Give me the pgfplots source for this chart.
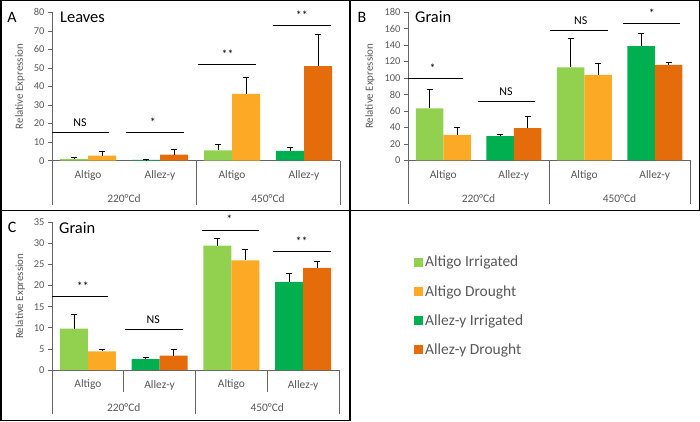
\documentclass[border=0pt]{standalone}
\usepackage{pgfplots}
\pgfplotsset{compat=1.18}
\usepackage{fontspec}
\setmainfont{Carlito}
\definecolor{cLG}{RGB}{146,208,80}
\definecolor{cOR}{RGB}{252,170,38}
\definecolor{cGR}{RGB}{0,176,80}
\definecolor{cDO}{RGB}{228,108,10}
\definecolor{txtgray}{RGB}{89,89,89}
\definecolor{axisgray}{RGB}{100,100,100}
\pgfplotsset{
  panel/.style={
    scale only axis, anchor=south west, xmin=-0.5, xmax=3.5, ymin=0,
    axis x line*=bottom, axis y line*=left,
    axis line style={draw=axisgray, line width=0.7bp, -},
    xtick=\empty, ytick style={draw=axisgray, line width=0.7bp},
    tick align=outside, major tick length=4bp,
    ybar, bar width=0.39, bar shift=0, clip=false,
    tick label style={font=\fontsize{10.5}{12}\selectfont, text=txtgray},
    /pgf/number format/assume math mode=true,
    ylabel={Relative Expression},
    ylabel style={font=\fontsize{11}{12}\selectfont, text=txtgray, anchor=center},
  },
  eb/.style={draw=none, fill=#1,
    error bars/y dir=plus, error bars/y explicit,
    error bars/error mark=|,
    error bars/error bar style={draw=black, line width=0.6bp},
    error bars/error mark options={draw=black, line width=0.6bp, mark size=3bp}},
}
\tikzset{cat/.style={font=\fontsize{11.5}{13}\selectfont, text=txtgray}}
\newcommand{\catlabels}{%
  \node[cat] at ([yshift=-15bp]axis cs:0,0) {Altigo};
  \node[cat] at ([yshift=-15bp]axis cs:1,0) {Allez-y};
  \node[cat] at ([yshift=-15bp]axis cs:2,0) {Altigo};
  \node[cat] at ([yshift=-15bp]axis cs:3,0) {Allez-y};
  \node[cat] at ([yshift=-38bp]axis cs:0.5,0) {220°Cd};
  \node[cat] at ([yshift=-38bp]axis cs:2.5,0) {450°Cd};
  \draw[axisgray, line width=0.7bp] (axis cs:-0.5,0) -- ([yshift=-44bp]axis cs:-0.5,0);
  \draw[axisgray, line width=0.7bp] (axis cs:1.5,0) -- ([yshift=-44bp]axis cs:1.5,0);
  \draw[axisgray, line width=0.7bp] (axis cs:3.5,0) -- ([yshift=-44bp]axis cs:3.5,0);
}
\newcommand{\sig}[5]{% x1, x2, y, text, xmid
  \draw[black, line width=0.7bp] (axis cs:#1,#3) -- (axis cs:#2,#3);
  \node[anchor=base, font=\fontsize{12}{14}\selectfont, inner sep=0pt] at ([yshift=6bp]axis cs:#5,#3) {#4};
}
\begin{document}
\begin{tikzpicture}[x=1bp,y=1bp]
\useasboundingbox (0,0) rectangle (700,421);
% frames
\draw[black, line width=1.5bp] (0.75,420.25) rectangle (350,210.5);
\draw[black, line width=1.5bp] (350,420.25) rectangle (699.25,210.5);
\draw[black, line width=1.5bp] (0.75,210.5) rectangle (350,0.75);
% Panel A
\begin{axis}[panel, at={(52bp,260.3bp)}, width=288bp, height=148.4bp, ymax=80, ytick distance=10,
  ylabel style={at={(axis description cs:-0.111,0.5)}}]
\addplot[eb=cLG] coordinates {(-0.195,0.9) +- (0,0.7) (1.805,5.6) +- (0,3.4)};
\addplot[eb=cOR] coordinates {(0.195,2.8) +- (0,2.0) (2.195,36) +- (0,9)};
\addplot[eb=cGR] coordinates {(0.805,0.4) +- (0,0.2) (2.805,5.3) +- (0,1.8)};
\addplot[eb=cDO] coordinates {(1.195,3.3) +- (0,2.8) (3.195,51) +- (0,17)};
\catlabels
\sig{-0.5}{0.29}{15.3}{NS}{-0.11}
\sig{0.53}{1.33}{15.3}{*}{0.9}
\sig{1.53}{2.33}{52.1}{**}{1.94}
\sig{2.57}{3.375}{73.1}{**}{2.97}
\end{axis}
% Panel B
\begin{axis}[panel, at={(408bp,260.7bp)}, width=282bp, height=148bp, ymax=180, ytick distance=20,
  ylabel style={at={(axis description cs:-0.135,0.5)}}]
\addplot[eb=cLG] coordinates {(-0.195,63) +- (0,23) (1.805,113) +- (0,35)};
\addplot[eb=cOR] coordinates {(0.195,31) +- (0,9) (2.195,104) +- (0,14)};
\addplot[eb=cGR] coordinates {(0.805,29.5) +- (0,2) (2.805,139) +- (0,16)};
\addplot[eb=cDO] coordinates {(1.195,39) +- (0,15) (3.195,116) +- (0,3)};
\catlabels
\sig{-0.5}{0.28}{100}{*}{-0.15}
\sig{0.49}{1.30}{71.3}{NS}{0.89}
\sig{1.51}{2.34}{157.6}{NS}{1.95}
\sig{2.55}{3.36}{166.6}{*}{2.96}
\end{axis}
% Panel C
\begin{axis}[panel, at={(52bp,51bp)}, width=287bp, height=147.7bp, ymax=35, ytick distance=5,
  ylabel style={at={(axis description cs:-0.111,0.5)}}]
\addplot[eb=cLG] coordinates {(-0.195,9.8) +- (0,3.3) (1.805,29.5) +- (0,1.7)};
\addplot[eb=cOR] coordinates {(0.195,4.4) +- (0,0.6) (2.195,26) +- (0,2.7)};
\addplot[eb=cGR] coordinates {(0.805,2.6) +- (0,0.5) (2.805,20.9) +- (0,2)};
\addplot[eb=cDO] coordinates {(1.195,3.4) +- (0,1.5) (3.195,24.2) +- (0,1.5)};
\catlabels
\draw[axisgray, line width=0.7bp] (axis cs:0.5,0) -- ([yshift=-22bp]axis cs:0.5,0);
\draw[axisgray, line width=0.7bp] (axis cs:2.5,0) -- ([yshift=-22bp]axis cs:2.5,0);
\sig{-0.5}{0.28}{17.5}{**}{-0.07}
\sig{0.52}{1.33}{9.7}{NS}{0.91}
\sig{1.59}{2.38}{33.2}{*}{1.97}
\sig{2.58}{3.39}{28.2}{**}{2.98}
\end{axis}
% Legend
\begin{axis}[at={(411bp,169bp)}, anchor=north west, hide axis, scale only axis,
  width=10bp, height=10bp, xmin=0, xmax=1, ymin=0, ymax=1,
  legend style={at={(0,1)}, anchor=north west, draw=none, fill=none,
    font=\fontsize{15.5}{18}\selectfont, text=txtgray, row sep=13bp,
    /tikz/every even column/.style={column sep=2bp}},
  legend cell align=left,
  legend image code/.code={\fill[#1] (0bp,-4.5bp) rectangle (9bp,4.5bp);}]
\addlegendimage{fill=cLG, draw=none}
\addlegendentry{Altigo Irrigated}
\addlegendimage{fill=cOR, draw=none}
\addlegendentry{Altigo Drought}
\addlegendimage{fill=cGR, draw=none}
\addlegendentry{Allez-y Irrigated}
\addlegendimage{fill=cDO, draw=none}
\addlegendentry{Allez-y Drought}
\end{axis}
% Titles
\node[font=\fontsize{16}{18}\selectfont] at (12,404) {A};
\node[font=\fontsize{16.5}{18}\selectfont, anchor=west, inner sep=0pt] at (60,403.5) {Leaves};
\node[font=\fontsize{16}{18}\selectfont] at (362,404) {B};
\node[font=\fontsize{16.5}{18}\selectfont, anchor=west, inner sep=0pt] at (415,404) {Grain};
\node[font=\fontsize{16}{18}\selectfont] at (12,194) {C};
\node[font=\fontsize{16.5}{18}\selectfont, anchor=west, inner sep=0pt] at (59,193) {Grain};
\end{tikzpicture}
\end{document}
